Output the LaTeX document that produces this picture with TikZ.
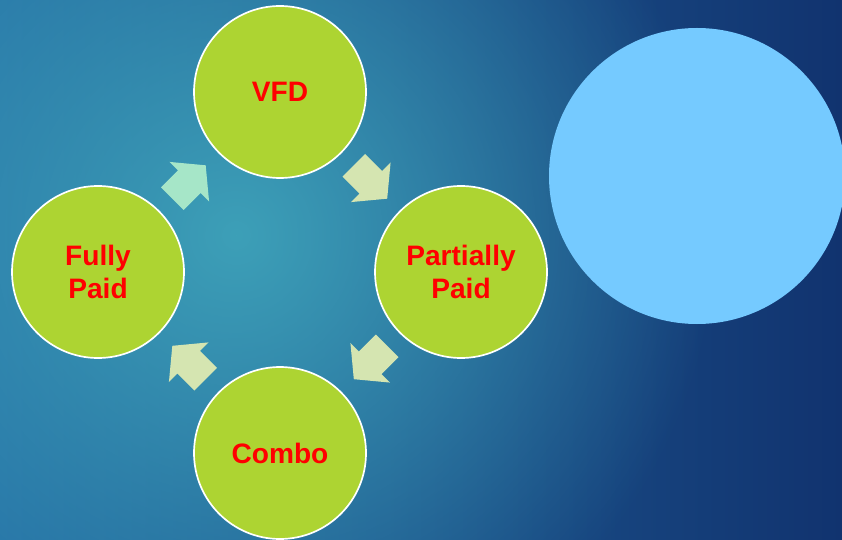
\documentclass[tikz,border=0pt]{standalone}
\usepackage{fontspec}
\setmainfont{Liberation Sans}
\usetikzlibrary{positioning,calc,fadings}

\definecolor{stagegreen}{HTML}{ADD432}
\definecolor{stagered}{HTML}{FF0000}
\definecolor{bigblue}{HTML}{75CAFF}
\definecolor{mintarrow}{HTML}{A6E6C8}
\definecolor{palearrow}{HTML}{D5E5B1}
\definecolor{bgleft}{HTML}{2570A6}
\definecolor{bgright}{HTML}{11336F}
\definecolor{bgglow}{HTML}{3DA0B8}

\tikzfading[name=glowfade, inner color=transparent!0, outer color=transparent!100]

\tikzset{
  stage/.style={circle, fill=stagegreen, draw=white, line width=1.2pt,
    minimum size=4.3cm, inner sep=0pt, align=center, text=stagered,
    font=\bfseries\fontsize{20}{23.5}\selectfont},
  blockarrow/.pic={
    \fill[#1] (-0.59,-0.4) -- (0.01,-0.4) -- (0.01,-0.7) -- (0.59,0)
      -- (0.01,0.7) -- (0.01,0.4) -- (-0.59,0.4) -- cycle;
  }
}

\begin{document}
\begin{tikzpicture}
  \useasboundingbox (0,0) rectangle (21.05,13.475);
  \clip (0,0) rectangle (21.05,13.475);

  % background
  \shade[left color=bgleft, right color=bgright] (0,0) rectangle (21.05,13.475);
  \fill[bgglow, path fading=glowfade] (5.9,7.6) circle (12cm);

  % the four stages
  \node[stage] (vfd) at (7.0,11.175) {VFD};
  \node[stage] (partial) at (11.525,6.675) {Partially\\Paid};
  \node[stage] (combo) at (7.0,2.15) {Combo};
  \node[stage] (fully) at (2.45,6.675) {Fully\\Paid};

  % arrows between them
  \pic[rotate=45] at ($(fully)!0.5!(vfd)$) {blockarrow=mintarrow};
  \pic[rotate=-45] at ($(vfd)!0.5!(partial)$) {blockarrow=palearrow};
  \pic[rotate=-135] at ($(partial)!0.5!(combo)$) {blockarrow=palearrow};
  \pic[rotate=135] at ($(combo)!0.5!(fully)$) {blockarrow=palearrow};

  % big circle on the right
  \node[circle, fill=bigblue, minimum size=7.4cm, inner sep=0pt] (bigdot) at (17.425,9.075) {};
\end{tikzpicture}
\end{document}
